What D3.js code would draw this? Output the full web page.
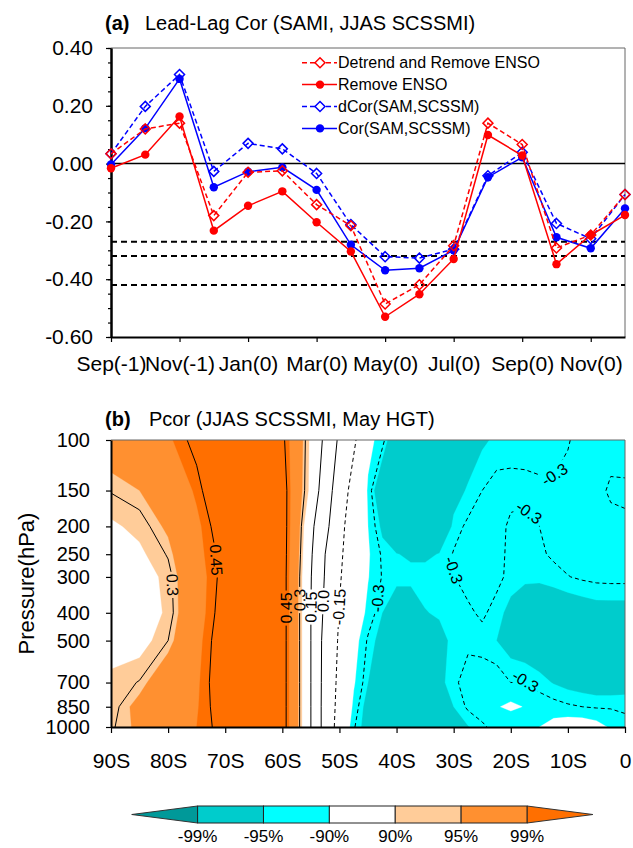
<!DOCTYPE html>
<html>
<head>
<meta charset="utf-8">
<script src="https://cdn.jsdelivr.net/npm/d3@7"></script>
<style>
  body { margin: 0; background: #fff; }
  svg text { font-family: "Liberation Sans", Arial, Helvetica, sans-serif; fill: #000; }
</style>
</head>
<body>
<svg id="chart" width="633" height="848"></svg>
<script>
// ---------- panel (a): lead-lag correlations ----------
const months = ["Sep(-1)", "Oct(-1)", "Nov(-1)", "Dec(-1)", "Jan(0)", "Feb(0)", "Mar(0)", "Apr(0)",
                "May(0)", "Jun(0)", "Jul(0)", "Aug(0)", "Sep(0)", "Oct(0)", "Nov(0)", "Dec(0)"];
const detrendRemoveEnso = [0.034, 0.12, 0.14, -0.18, -0.03, -0.025, -0.142, -0.215, -0.486, -0.419, -0.284, 0.14, 0.066, -0.292, -0.247, -0.107];
const removeEnso = [-0.016, 0.031, 0.163, -0.232, -0.146, -0.096, -0.203, -0.304, -0.53, -0.452, -0.33, 0.099, 0.028, -0.348, -0.247, -0.178];
const dCor = [0.034, 0.198, 0.308, -0.027, 0.07, 0.051, -0.034, -0.211, -0.322, -0.327, -0.296, -0.042, 0.039, -0.207, -0.26, -0.107];
const cor = [-0.003, 0.122, 0.293, -0.082, -0.028, -0.013, -0.091, -0.281, -0.369, -0.362, -0.3, -0.047, 0.022, -0.255, -0.293, -0.155];
const seriesNames = ["Detrend and Remove ENSO", "Remove ENSO", "dCor(SAM,SCSSM)", "Cor(SAM,SCSSM)"];
const sigLevels = [-0.27, -0.32, -0.42];
const yTicksA = [0.4, 0.2, 0, -0.2, -0.4, -0.6];

// ---------- panel (b): partial correlation, latitude x pressure ----------
const lats = [-90, -85, -80, -75, -70, -65, -60, -57.5, -55, -52.5, -50, -47.5, -45, -42.5, -40, -37.5,
              -35, -32.5, -30, -27.5, -25, -22.5, -20, -17.5, -15, -12.5, -10, -7.5, -5, -2.5, 0];
const levels = [100, 150, 200, 250, 300, 400, 500, 700, 850, 1000];
const pcor = [
  // 100 hPa
  [0.35, 0.37, 0.41, 0.47, 0.53, 0.54, 0.465, 0.371, 0.255, 0.124, -0.024, -0.129, -0.259, -0.284, -0.384, -0.40,
   -0.40, -0.38, -0.36, -0.35, -0.325, -0.315, -0.31, -0.31, -0.31, -0.305, -0.301, -0.295, -0.29, -0.287, -0.285],
  // 150
  [0.303, 0.32, 0.36, 0.43, 0.53, 0.55, 0.49, 0.364, 0.25, 0.07, -0.07, -0.2, -0.275, -0.38, -0.40, -0.40,
   -0.40, -0.39, -0.34, -0.315, -0.30, -0.29, -0.292, -0.293, -0.2955, -0.298, -0.296, -0.287, -0.29, -0.305, -0.305],
  // 200
  [0.261, 0.283, 0.33, 0.405, 0.495, 0.54, 0.49, 0.36, 0.18, 0.04, -0.11, -0.22, -0.27, -0.33, -0.40, -0.41,
   -0.41, -0.38, -0.31, -0.295, -0.285, -0.29, -0.305, -0.308, -0.30, -0.29, -0.285, -0.285, -0.285, -0.29, -0.295],
  // 250
  [0.22, 0.26, 0.304, 0.40, 0.474, 0.53, 0.49, 0.35, 0.165, 0.0, -0.13, -0.215, -0.265, -0.305, -0.318, -0.328,
   -0.328, -0.318, -0.298, -0.285, -0.28, -0.293, -0.305, -0.31, -0.305, -0.295, -0.29, -0.287, -0.285, -0.285, -0.285],
  // 300
  [0.20, 0.24, 0.285, 0.39, 0.473, 0.53, 0.49, 0.34, 0.155, -0.01, -0.14, -0.22, -0.268, -0.302, -0.306, -0.306,
   -0.306, -0.305, -0.301, -0.29, -0.285, -0.292, -0.308, -0.315, -0.315, -0.31, -0.301, -0.296, -0.293, -0.292, -0.292],
  // 400
  [0.20, 0.23, 0.28, 0.39, 0.484, 0.53, 0.49, 0.34, 0.15, -0.03, -0.155, -0.235, -0.28, -0.32, -0.36, -0.36,
   -0.322, -0.315, -0.31, -0.305, -0.295, -0.31, -0.33, -0.34, -0.345, -0.345, -0.345, -0.34, -0.335, -0.335, -0.335],
  // 500
  [0.255, 0.247, 0.30, 0.40, 0.496, 0.53, 0.49, 0.34, 0.15, -0.05, -0.165, -0.25, -0.305, -0.335, -0.37, -0.38,
   -0.37, -0.335, -0.31, -0.305, -0.31, -0.32, -0.335, -0.345, -0.35, -0.355, -0.355, -0.355, -0.355, -0.355, -0.355],
  // 700
  [0.277, 0.303, 0.367, 0.41, 0.50, 0.53, 0.49, 0.34, 0.15, -0.055, -0.18, -0.265, -0.32, -0.35, -0.37, -0.37,
   -0.36, -0.33, -0.305, -0.29, -0.285, -0.285, -0.30, -0.298, -0.31, -0.322, -0.33, -0.335, -0.34, -0.34, -0.335],
  // 850
  [0.285, 0.338, 0.37, 0.415, 0.488, 0.53, 0.49, 0.34, 0.15, -0.058, -0.19, -0.28, -0.34, -0.37, -0.38, -0.38,
   -0.36, -0.34, -0.32, -0.295, -0.285, -0.273, -0.262, -0.272, -0.285, -0.29, -0.296, -0.30, -0.303, -0.303, -0.305],
  // 1000
  [0.295, 0.33, 0.375, 0.42, 0.475, 0.52, 0.49, 0.34, 0.15, -0.058, -0.202, -0.296, -0.342, -0.37, -0.38, -0.38,
   -0.37, -0.355, -0.34, -0.322, -0.305, -0.29, -0.30, -0.285, -0.27, -0.255, -0.245, -0.245, -0.255, -0.275, -0.29]
];
const shadeLevels = [-1, -0.42, -0.32, -0.27, 0.27, 0.32, 0.42];
const shadeColors = ["#009999", "#00cccc", "#00ffff", "#ffffff", "#ffcc99", "#ff9030", "#ff6f00"];
const lineLevels = [-0.3, -0.15, 0, 0.15, 0.3, 0.45];
const latTicks = [-90, -80, -70, -60, -50, -40, -30, -20, -10, 0];
const sigLabels = ["-99%", "-95%", "-90%", "90%", "95%", "99%"];
// contour labels, placed on the nearest point of the line (lat, hPa)
const labelSpots = [
  { v: 0.3, lat: -79.5, p: 320 }, { v: 0.45, lat: -71.6, p: 262 },
  { v: 0.45, lat: -59.3, p: 385 }, { v: 0.3, lat: -57.0, p: 361 }, { v: 0.15, lat: -55.0, p: 382 },
  { v: 0, lat: -53.0, p: 364 }, { v: -0.15, lat: -49.6, p: 382 }, { v: -0.3, lat: -43.3, p: 356 },
  { v: -0.3, lat: -30.1, p: 284 }, { v: -0.3, lat: -17.8, p: 185 }, { v: -0.3, lat: -12.6, p: 131 },
  { v: -0.3, lat: -17.5, p: 695 }
];

const svg = d3.select("#chart");
const font = "Liberation Sans, Arial, Helvetica, sans-serif";

// ======================= panel (a) =======================
const xa = d3.scaleLinear().domain([0, 15]).range([111, 625]);
const ya = d3.scaleLinear().domain([-0.6, 0.4]).range([337, 48]);
const ga = svg.append("g");

ga.append("text").attr("x", 105).attr("y", 30).attr("font-size", 20)
  .call(t => {
    t.append("tspan").attr("font-weight", "bold").text("(a)");
    t.append("tspan").attr("x", 145).text("Lead-Lag Cor (SAMI, JJAS SCSSMI)");
  });

// frame
ga.append("path").attr("d", `M${xa(0)},${ya(0.4)}H${xa(15)}V${ya(-0.6)}`)
  .attr("fill", "none").attr("stroke", "#666").attr("stroke-width", 1);

// significance lines and zero line
ga.selectAll(".sig").data(sigLevels).join("line")
  .attr("x1", xa(0)).attr("x2", xa(15)).attr("y1", d => ya(d)).attr("y2", d => ya(d))
  .attr("stroke", "#000").attr("stroke-width", 2).attr("stroke-dasharray", "6,4");
ga.append("line").attr("x1", xa(0)).attr("x2", xa(15)).attr("y1", ya(0)).attr("y2", ya(0))
  .attr("stroke", "#000").attr("stroke-width", 1.5);

// axes
const axL = ga.append("g").attr("transform", `translate(${xa(0)},0)`)
  .call(d3.axisLeft(ya).tickValues(yTicksA).tickFormat(d => d.toFixed(2)).tickSize(5).tickSizeOuter(0).tickPadding(13));
const axLm = ga.append("g").attr("transform", `translate(${xa(0)},0)`)
  .call(d3.axisLeft(ya).tickValues(d3.range(-0.6, 0.41, 0.05)).tickFormat("").tickSize(3).tickSizeOuter(0));
const axB = ga.append("g").attr("transform", `translate(0,${ya(-0.6)})`)
  .call(d3.axisBottom(xa).tickValues(d3.range(0, 15, 2)).tickFormat(i => months[i]).tickSize(5).tickSizeOuter(0).tickPadding(14));
[axL, axLm, axB].forEach(a => {
  a.attr("font-size", 21).attr("font-family", font);
  a.select(".domain").attr("stroke-width", 2);
  a.selectAll(".tick line").attr("stroke-width", 1.2);
});

// series
const diamond = r => `M0,${-r}L${r},0L0,${r}L${-r},0Z`;
const series = [
  { name: seriesNames[3], values: cor, color: "#0000ff", dash: null, marker: "dot" },
  { name: seriesNames[2], values: dCor, color: "#0000ff", dash: "5,3", marker: "diamond" },
  { name: seriesNames[1], values: removeEnso, color: "#ff0000", dash: null, marker: "dot" },
  { name: seriesNames[0], values: detrendRemoveEnso, color: "#ff0000", dash: "5,3", marker: "diamond" }
];
const line = d3.line().x((d, i) => xa(i)).y(d => ya(d));
series.forEach(s => {
  const g = ga.append("g");
  g.append("path").attr("d", line(s.values)).attr("fill", "none")
    .attr("stroke", s.color).attr("stroke-width", 1.5).attr("stroke-dasharray", s.dash);
  if (s.marker === "dot") {
    g.selectAll("circle").data(s.values).join("circle")
      .attr("cx", (d, i) => xa(i)).attr("cy", d => ya(d)).attr("r", 4.2).attr("fill", s.color);
  } else {
    g.selectAll("path.m").data(s.values).join("path").attr("class", "m")
      .attr("transform", (d, i) => `translate(${xa(i)},${ya(d)})`).attr("d", diamond(5))
      .attr("fill", "none").attr("stroke", s.color).attr("stroke-width", 1.5);
  }
});

// legend
const legend = ga.append("g");
series.slice().reverse().forEach((s, k) => {
  const y = 62.7 + k * 21.9;
  legend.append("line").attr("x1", 302).attr("x2", 337).attr("y1", y).attr("y2", y)
    .attr("stroke", s.color).attr("stroke-width", 1.5).attr("stroke-dasharray", s.dash);
  if (s.marker === "dot") legend.append("circle").attr("cx", 320).attr("cy", y).attr("r", 4.2).attr("fill", s.color);
  else legend.append("path").attr("transform", `translate(320,${y})`).attr("d", diamond(5))
    .attr("fill", "#fff").attr("stroke", s.color).attr("stroke-width", 1.5);
  legend.append("text").attr("x", 338).attr("y", y + 5.7).attr("font-size", 16).text(s.name);
});

// ======================= panel (b) =======================
const xb = d3.scaleLinear().domain([-90, 0]).range([111, 625]);
const yb = d3.scaleLog().domain([100, 1000]).range([440, 727]);
const gb = svg.append("g");

gb.append("text").attr("x", 105).attr("y", 426).attr("font-size", 20)
  .call(t => {
    t.append("tspan").attr("font-weight", "bold").text("(b)");
    t.append("tspan").attr("x", 149).text("Pcor (JJAS SCSSMI, May HGT)");
  });

const nx = lats.length, ny = levels.length;
const values = pcor.flat();
function gx(cx) {
  const t = Math.max(0, Math.min(nx - 1, cx - 0.5));
  const i = Math.min(nx - 2, Math.floor(t)), f = t - i;
  return xb(lats[i] + f * (lats[i + 1] - lats[i]));
}
function gy(cy) {
  const t = Math.max(0, Math.min(ny - 1, cy - 0.5));
  const j = Math.min(ny - 2, Math.floor(t)), f = t - j;
  const y0 = yb(levels[j]), y1 = yb(levels[j + 1]);
  return y0 + f * (y1 - y0);
}
const gridPath = d3.geoPath(d3.geoTransform({ point(x, y) { this.stream.point(gx(x), gy(y)); } }));

svg.append("defs").append("clipPath").attr("id", "plotB")
  .append("rect").attr("x", xb(-90)).attr("y", yb(100)).attr("width", xb(0) - xb(-90)).attr("height", yb(1000) - yb(100));

const fills = d3.contours().size([nx, ny]).thresholds(shadeLevels)(values);
gb.append("g").attr("clip-path", "url(#plotB)")
  .selectAll("path").data(fills).join("path")
  .attr("d", gridPath).attr("fill", (d, i) => shadeColors[i]).attr("stroke", (d, i) => shadeColors[i]).attr("stroke-width", 0.3);

// contour lines, dropping the parts that run along the grid border
const X0 = xb(-90), X1 = xb(0), Y0 = yb(100), Y1 = yb(1000);
const near = (a, b) => Math.abs(a - b) < 0.01;
function alongEdge(a, b) {
  return (near(a[0], X0) && near(b[0], X0)) || (near(a[0], X1) && near(b[0], X1)) ||
         (near(a[1], Y0) && near(b[1], Y0)) || (near(a[1], Y1) && near(b[1], Y1));
}
function ringLines(ring) {
  const pts = ring.map(([cx, cy]) => [gx(cx), gy(cy)]);
  const out = [];
  let cur = null, firstKept = false, lastKept = false;
  for (let k = 0; k < pts.length - 1; k++) {
    const a = pts[k], b = pts[k + 1];
    const keep = !alongEdge(a, b);
    if (k === 0) firstKept = keep;
    if (k === pts.length - 2) lastKept = keep;
    if (!keep) { cur = null; continue; }
    if (!cur) { cur = [a]; out.push(cur); }
    cur.push(b);
  }
  if (out.length > 1 && firstKept && lastKept) {
    const last = out.pop();
    out[0] = last.concat(out[0].slice(1));
  }
  return out;
}
const isoLines = lineLevels.map(v => {
  const c = d3.contours().size([nx, ny]).thresholds([v])(values)[0];
  const lines = [];
  c.coordinates.forEach(poly => poly.forEach(ring => ringLines(ring).forEach(l => lines.push(l))));
  return { v, lines };
});

const mask = svg.select("defs").append("mask").attr("id", "lblMask").attr("maskUnits", "userSpaceOnUse");
mask.append("rect").attr("x", 0).attr("y", 0).attr("width", 633).attr("height", 848).attr("fill", "#fff");

const lineG = gb.append("g").attr("clip-path", "url(#plotB)").append("g").attr("mask", "url(#lblMask)");
isoLines.forEach(iso => {
  lineG.selectAll(null).data(iso.lines).join("path")
    .attr("d", d3.line()).attr("fill", "none").attr("stroke", "#000").attr("stroke-width", 1)
    .attr("stroke-dasharray", iso.v < 0 ? "4,3" : null);
});

function nearest(lines, tx, ty) {
  let best = null;
  lines.forEach(l => {
    for (let k = 0; k < l.length - 1; k++) {
      const [x1, y1] = l[k], [x2, y2] = l[k + 1];
      const dx = x2 - x1, dy = y2 - y1, L2 = dx * dx + dy * dy;
      if (L2 === 0) continue;
      const t = Math.max(0, Math.min(1, ((tx - x1) * dx + (ty - y1) * dy) / L2));
      const px = x1 + t * dx, py = y1 + t * dy, d = (px - tx) ** 2 + (py - ty) ** 2;
      if (!best || d < best.d) {
        const a = l[Math.max(0, k - 2)], b = l[Math.min(l.length - 1, k + 3)];
        best = { d, x: px, y: py, ang: Math.atan2(b[1] - a[1], b[0] - a[0]) * 180 / Math.PI };
      }
    }
  });
  return best;
}
const fmtLevel = v => v === 0 ? "0.0" : String(v);
const lblG = gb.append("g");
labelSpots.forEach(s => {
  const iso = isoLines.find(d => d.v === s.v);
  const hit = nearest(iso.lines, xb(s.lat), yb(s.p));
  if (!hit) return;
  let ang = hit.ang;
  while (ang > 90) ang -= 180;
  while (ang <= -90) ang += 180;
  const tr = `translate(${hit.x},${hit.y}) rotate(${ang})`;
  const t = lblG.append("text").attr("transform", tr).attr("text-anchor", "middle")
    .attr("dy", "0.35em").attr("font-size", 16).text(fmtLevel(s.v));
  const w = t.node().getComputedTextLength() + 4;
  mask.append("rect").attr("transform", tr).attr("x", -w / 2).attr("y", -8).attr("width", w).attr("height", 16).attr("fill", "#000");
});

// frame and axes of (b)
gb.append("path").attr("d", `M${X0},${Y0}H${X1}V${Y1}`).attr("fill", "none").attr("stroke", "#666").attr("stroke-width", 1);
const bxL = gb.append("g").attr("transform", `translate(${X0},0)`)
  .call(d3.axisLeft(yb).tickValues(levels).tickFormat(d3.format("d")).tickSize(5).tickSizeOuter(0).tickPadding(16));
const bxB = gb.append("g").attr("transform", `translate(0,${Y1})`)
  .call(d3.axisBottom(xb).tickValues(latTicks).tickFormat(d => d === 0 ? "0" : `${-d}S`).tickSize(6).tickSizeOuter(0).tickPadding(20));
[bxL, bxB].forEach(a => {
  a.attr("font-family", font);
  a.select(".domain").attr("stroke-width", 2);
  a.selectAll(".tick line").attr("stroke-width", 1.2);
});
bxL.attr("font-size", 20);
bxB.attr("font-size", 21);
gb.append("text").attr("transform", `translate(34,${(Y0 + Y1) / 2}) rotate(-90)`)
  .attr("text-anchor", "middle").attr("font-size", 22).text("Pressure(hPa)");

// ======================= colour bar =======================
const xc = d3.scaleLinear().domain([0, 5]).range([197.6, 527]);
const cbTop = 806, cbBot = 823, cbMid = (cbTop + cbBot) / 2;
const cb = svg.append("g");
cb.append("path").attr("d", `M${xc(0)},${cbTop}L${xc(-1)},${cbMid}L${xc(0)},${cbBot}Z`)
  .attr("fill", shadeColors[0]).attr("stroke", "#333").attr("stroke-width", 1);
cb.append("path").attr("d", `M${xc(5)},${cbTop}L${xc(6)},${cbMid}L${xc(5)},${cbBot}Z`)
  .attr("fill", shadeColors[6]).attr("stroke", "#333").attr("stroke-width", 1);
cb.selectAll("rect").data(shadeColors.slice(1, 6)).join("rect")
  .attr("x", (d, i) => xc(i)).attr("y", cbTop).attr("width", xc(1) - xc(0)).attr("height", cbBot - cbTop)
  .attr("fill", d => d).attr("stroke", "#222").attr("stroke-width", 1);
cb.selectAll("text").data(sigLabels).join("text")
  .attr("x", (d, i) => xc(i)).attr("y", 842).attr("text-anchor", "middle").attr("font-size", 17).text(d => d);
</script>
</body>
</html>
